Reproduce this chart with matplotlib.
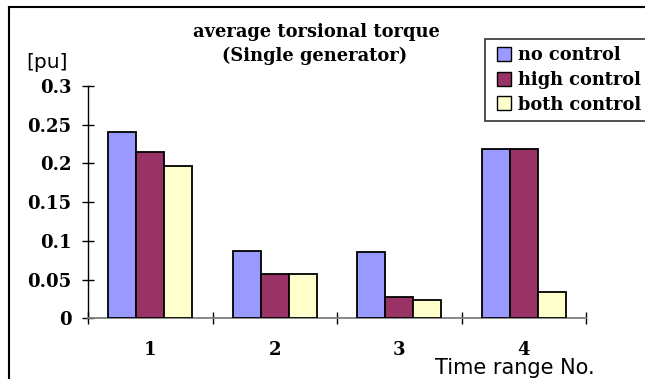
import matplotlib
matplotlib.use("Agg")
import matplotlib.pyplot as plt
import numpy as np
from matplotlib.lines import Line2D

# Data
categories = ["1", "2", "3", "4"]
series_names = ["no control", "high control", "both control"]
no_control = [0.240, 0.087, 0.085, 0.218]
high_control = [0.215, 0.057, 0.028, 0.218]
both_control = [0.197, 0.057, 0.023, 0.034]
y_ticks = [0, 0.05, 0.1, 0.15, 0.2, 0.25, 0.3]
y_tick_labels = ["0", "0.05", "0.1", "0.15", "0.2", "0.25", "0.3"]

colors = ["#9999FF", "#993366", "#FFFFCC"]
serif_bold = dict(family="DejaVu Serif", weight="bold")

W, H = 645, 379
fig = plt.figure(figsize=(W / 100, H / 100), dpi=100)
fig.patch.set_facecolor("white")

# Chart-area frame (top and left edges visible)
fig.add_artist(Line2D([9 / W, 9 / W], [0, 1 - 7 / H], transform=fig.transFigure,
                      color="black", lw=1.5))
fig.add_artist(Line2D([9 / W, 1], [1 - 7 / H, 1 - 7 / H], transform=fig.transFigure,
                      color="black", lw=1.5))

ax = fig.add_axes([88 / W, 1 - 318.3 / H, (586 - 88) / W, (318.3 - 85.8) / H])

x = np.arange(len(categories))
width = 0.224
series = [no_control, high_control, both_control]
for i, (vals, name, c) in enumerate(zip(series, series_names, colors)):
    ax.bar(x + (i - 1) * width, vals, width, color=c, edgecolor="black",
           linewidth=1.3, label=name, zorder=3)

ax.set_xlim(-0.5, len(categories) - 0.5)
ax.set_ylim(0, 0.3)

ax.set_yticks(y_ticks)
ax.set_yticklabels(y_tick_labels, fontsize=13, **serif_bold)
ax.set_xticks(x)
ax.set_xticklabels(categories, fontsize=13, **serif_bold)
ax.set_xticks(np.arange(len(categories) + 1) - 0.5, minor=True)

ax.tick_params(axis="y", direction="inout", length=8, width=1, pad=8, color="black")
ax.tick_params(axis="x", which="major", length=0, pad=16)
ax.tick_params(axis="x", which="minor", direction="inout", length=8, width=1,
               color="black")

for s in ["top", "right"]:
    ax.spines[s].set_visible(False)
ax.spines["left"].set_color("black")
ax.spines["left"].set_linewidth(1)
ax.spines["bottom"].set_color("#808080")
ax.spines["bottom"].set_linewidth(1.3)

fig.text(316 / W, 1 - 32 / H, "average torsional torque", ha="center", va="center",
         fontsize=12.9, **serif_bold)
fig.text(315 / W, 1 - 56 / H, "(Single generator)", ha="center", va="center",
         fontsize=12.9, **serif_bold)

fig.text(47 / W, 1 - 62 / H, "[pu]", ha="center", va="center", fontsize=14.5,
         family="DejaVu Sans")
fig.text(515 / W, 1 - 368 / H, "Time range No.", ha="center", va="center",
         fontsize=15, family="DejaVu Sans")

# Legend with square swatches
handles = [Line2D([], [], marker="s", linestyle="none", markersize=9.5,
                  markerfacecolor=c, markeredgecolor="black", markeredgewidth=1)
           for c in colors]
leg = fig.legend(handles, series_names, loc="upper left",
                 bbox_to_anchor=(485 / W, 1 - 39 / H), numpoints=1,
                 prop=dict(family="DejaVu Serif", weight="bold", size=12.8),
                 frameon=True, fancybox=False, edgecolor="black",
                 handlelength=1.3, handletextpad=0.15,
                 labelspacing=0.38, borderpad=0.4, borderaxespad=0)
leg.get_frame().set_linewidth(1.2)

fig.savefig("out.png", dpi=100)
